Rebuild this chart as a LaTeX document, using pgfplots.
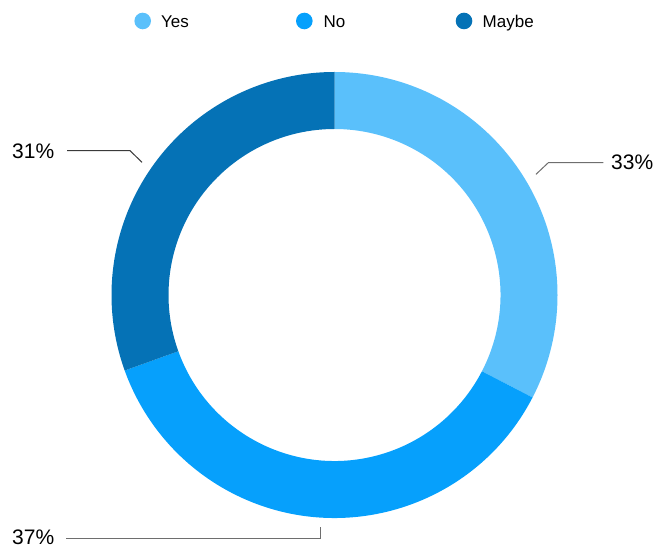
\documentclass[border=0pt]{standalone}
\usepackage{fontspec}
\setmainfont{Liberation Sans}
\usepackage{pgfplots}
\usepackage{pgfplotstable}
\pgfplotsset{compat=1.18}
\definecolor{cyes}{HTML}{5AC0FB}
\definecolor{cno}{HTML}{06A0FC}
\definecolor{cmaybe}{HTML}{0572B6}
\definecolor{leader}{HTML}{6E6E6E}
\definecolor{leaderdark}{HTML}{3A3A3A}
\pgfplotstableread{
answer value label
Yes 32.6 33
No 36.9 37
Maybe 30.5 31
}\pietable
\pgfplotstablegetelem{0}{value}\of\pietable \let\vYes\pgfplotsretval
\pgfplotstablegetelem{1}{value}\of\pietable \let\vNo\pgfplotsretval
\pgfplotstablegetelem{2}{value}\of\pietable \let\vMaybe\pgfplotsretval
\pgfplotstablegetelem{0}{label}\of\pietable \let\lYes\pgfplotsretval
\pgfplotstablegetelem{1}{label}\of\pietable \let\lNo\pgfplotsretval
\pgfplotstablegetelem{2}{label}\of\pietable \let\lMaybe\pgfplotsretval
\def\cx{334.5}\def\cy{252}\def\Ro{223}\def\Ri{166}
\pgfmathsetmacro{\aA}{90}
\pgfmathsetmacro{\aB}{90-3.6*\vYes}
\pgfmathsetmacro{\aC}{\aB-3.6*\vNo}
\pgfmathsetmacro{\aD}{\aC-3.6*\vMaybe}
\pgfmathsetmacro{\xoA}{\cx+\Ro*cos(\aA)}\pgfmathsetmacro{\yoA}{\cy+\Ro*sin(\aA)}
\pgfmathsetmacro{\xoB}{\cx+\Ro*cos(\aB)}\pgfmathsetmacro{\yoB}{\cy+\Ro*sin(\aB)}
\pgfmathsetmacro{\xoC}{\cx+\Ro*cos(\aC)}\pgfmathsetmacro{\yoC}{\cy+\Ro*sin(\aC)}
\pgfmathsetmacro{\xiB}{\cx+\Ri*cos(\aB)}\pgfmathsetmacro{\yiB}{\cy+\Ri*sin(\aB)}
\pgfmathsetmacro{\xiC}{\cx+\Ri*cos(\aC)}\pgfmathsetmacro{\yiC}{\cy+\Ri*sin(\aC)}
\pgfmathsetmacro{\xiD}{\cx+\Ri*cos(\aD)}\pgfmathsetmacro{\yiD}{\cy+\Ri*sin(\aD)}
\begin{document}
\begin{tikzpicture}
\begin{axis}[x=1pt,y=1pt,xmin=0,xmax=667,ymin=0,ymax=547,hide axis,clip=false]
\path (axis cs:0,0) rectangle (axis cs:667,547);
% ring slices
\fill[cyes] (axis cs:\xoA,\yoA) arc[start angle=\aA,end angle=\aB,radius=\Ro pt]
  -- (axis cs:\xiB,\yiB) arc[start angle=\aB,end angle=\aA,radius=\Ri pt] -- cycle;
\fill[cno] (axis cs:\xoB,\yoB) arc[start angle=\aB,end angle=\aC,radius=\Ro pt]
  -- (axis cs:\xiC,\yiC) arc[start angle=\aC,end angle=\aB,radius=\Ri pt] -- cycle;
\fill[cmaybe] (axis cs:\xoC,\yoC) arc[start angle=\aC,end angle=\aD,radius=\Ro pt]
  -- (axis cs:\xiD,\yiD) arc[start angle=\aD,end angle=\aC,radius=\Ri pt] -- cycle;
% leader lines
\draw[leaderdark,line width=1pt] (axis cs:67,396.3) -- (axis cs:130,396.3) -- (axis cs:142,384.7);
\draw[leader,line width=1pt] (axis cs:536,372.7) -- (axis cs:548.3,384.3) -- (axis cs:603.3,384.3);
\draw[leader,line width=1pt] (axis cs:66,8.7) -- (axis cs:320,8.7) -- (axis cs:320,19.7);
% percentage labels
\node[anchor=base west,inner sep=0pt,font=\fontsize{21}{25}\selectfont] at (axis cs:12,388.7) {\lMaybe\%};
\node[anchor=base west,inner sep=0pt,font=\fontsize{21}{25}\selectfont] at (axis cs:611,377) {\lYes\%};
\node[anchor=base west,inner sep=0pt,font=\fontsize{21}{25}\selectfont] at (axis cs:12,2) {\lNo\%};
% legend
\fill[cyes] (axis cs:142.7,526) circle[radius=8.3pt];
\fill[cno] (axis cs:304.3,526) circle[radius=8.3pt];
\fill[cmaybe] (axis cs:464,526) circle[radius=8.3pt];
\node[anchor=base west,inner sep=0pt,font=\fontsize{17}{20}\selectfont] at (axis cs:161,519.7) {Yes};
\node[anchor=base west,inner sep=0pt,font=\fontsize{17}{20}\selectfont] at (axis cs:323.5,519.7) {No};
\node[anchor=base west,inner sep=0pt,font=\fontsize{17}{20}\selectfont] at (axis cs:482.5,519.7) {Maybe};
\end{axis}
\end{tikzpicture}
\end{document}
